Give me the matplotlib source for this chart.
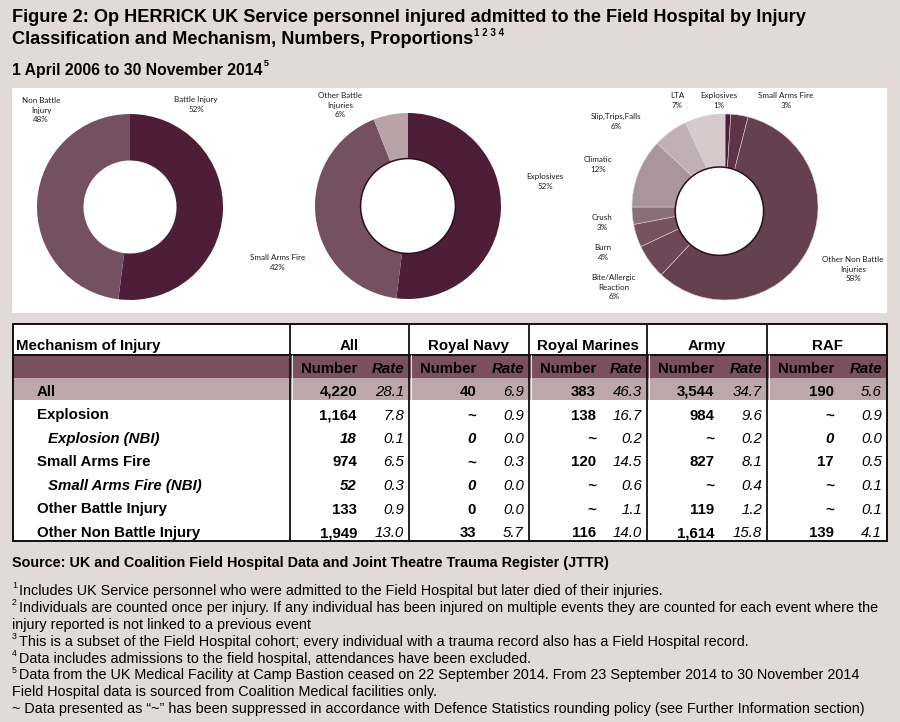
import matplotlib
matplotlib.use('Agg')
import matplotlib.pyplot as plt
from matplotlib.patches import Rectangle, Circle

W, H = 900, 722
BG = '#e2dad9'

# ---- chart data ----
overall_labels = ['Battle Injury', 'Non Battle\nInjury']
overall_pct = [52, 48]

battle_labels = ['Explosives', 'Small Arms Fire', 'Other Battle\nInjuries']
battle_pct = [52, 42, 6]
battle_total = '2,201'

nonbattle_labels = ['Explosives', 'Small Arms Fire', 'Other Non Battle\nInjuries',
                    'Bite/Allergic\nReaction', 'Burn', 'Crush', 'Climatic',
                    'Slip,Trips,Falls', 'LTA']
nonbattle_pct = [1, 3, 58, 6, 4, 3, 12, 6, 7]
nonbattle_total = '2,019'

# ---- table data (None = suppressed "~") ----
groups = ['All', 'Royal Navy', 'Royal Marines', 'Army', 'RAF']
mechanisms = ['All', 'Explosion', 'Explosion (NBI)', 'Small Arms Fire',
              'Small Arms Fire (NBI)', 'Other Battle Injury', 'Other Non Battle Injury']
numbers = [
    [4220, 40, 383, 3544, 190],
    [1164, None, 138, 984, None],
    [18, 0, None, None, 0],
    [974, None, 120, 827, 17],
    [52, 0, None, None, None],
    [133, 0, None, 119, None],
    [1949, 33, 116, 1614, 139],
]
rates = [
    [28.1, 6.9, 46.3, 34.7, 5.6],
    [7.8, 0.9, 16.7, 9.6, 0.9],
    [0.1, 0.0, 0.2, 0.2, 0.0],
    [6.5, 0.3, 14.5, 8.1, 0.5],
    [0.3, 0.0, 0.6, 0.4, 0.1],
    [0.9, 0.0, 1.1, 1.2, 0.1],
    [13.0, 5.7, 14.0, 15.8, 4.1],
]

title_lines = ['Figure 2: Op HERRICK UK Service personnel injured admitted to the Field Hospital by Injury',
               'Classification and Mechanism, Numbers, Proportions']
subtitle = '1 April 2006 to 30 November 2014'
source = 'Source: UK and Coalition Field Hospital Data and Joint Theatre Trauma Register (JTTR)'
footnotes = [
    ('1', 'Includes UK Service personnel who were admitted to the Field Hospital but later died of their injuries.'),
    ('2', 'Individuals are counted once per injury. If any individual has been injured on multiple events they are counted for each event where the'),
    ('', 'injury reported is not linked to a previous event'),
    ('3', 'This is a subset of the Field Hospital cohort; every individual with a trauma record also has a Field Hospital record.'),
    ('4', 'Data includes admissions to the field hospital, attendances have been excluded.'),
    ('5', 'Data from the UK Medical Facility at Camp Bastion ceased on 22 September 2014. From 23 September 2014 to 30 November 2014'),
    ('', 'Field Hospital data is sourced from Coalition Medical facilities only.'),
    ('', '~ Data presented as \u201c~\u201d has been suppressed in accordance with Defence Statistics rounding policy (see Further Information section)'),
]

SANS = ['Liberation Sans', 'DejaVu Sans']
LABEL = ['Lato', 'DejaVu Sans']

fig = plt.figure(figsize=(9, 7.22), dpi=100, facecolor=BG)
ax = fig.add_axes([0, 0, 1, 1])
ax.set_xlim(0, W)
ax.set_ylim(H, 0)
ax.axis('off')
renderer = fig.canvas.get_renderer()


def right_edge(t):
    bb = t.get_window_extent(renderer)
    return ax.transData.inverted().transform((bb.x1, bb.y0))[0]


def fit_size(s, width, size, **kw):
    # no narrow font installed: shrink the size so the line keeps its width
    t = ax.text(0, 0, s, size=size, **kw)
    w = t.get_window_extent(renderer).width
    t.remove()
    return size * width / w


# title block
tsize = fit_size(title_lines[0], 790, 12.8, family=SANS, weight='bold')
t = None
for i, line in enumerate(title_lines):
    t = ax.text(12, 18 + 21 * i, line, family=SANS, weight='bold', size=tsize, va='center')
ax.text(right_edge(t) + 1, 33, '1 2 3 4', family=SANS, weight='bold', size=7, va='center')
t = ax.text(12, 70, subtitle, family=SANS, weight='bold', size=11.3, va='center')
ax.text(right_edge(t) + 1, 64, '5', family=SANS, weight='bold', size=6.5, va='center')

# white chart panel
ax.add_patch(Rectangle((12, 88), 875, 225, facecolor='white', edgecolor='none'))


def donut(cx, cy, vals, colors, width, edge, lw, r=93):
    dax = fig.add_axes([(cx - r) / W, 1 - (cy + r) / H, 2 * r / W, 2 * r / H])
    dax.pie(vals, colors=colors, startangle=90, counterclock=False, radius=1,
            wedgeprops=dict(width=width, edgecolor=edge, linewidth=lw))
    dax.set_xlim(-1, 1)
    dax.set_ylim(-1, 1)
    dax.axis('off')
    return dax


dark, mid, light = '#4e1e38', '#745060', '#b9a3a8'
donut(130, 207, overall_pct, [dark, mid], 0.5, 'none', 0)
d2 = donut(408, 206, battle_pct, [dark, mid, light], 0.55, 'none', 0)
d2.add_patch(Circle((0, 0), 0.51, facecolor='white', edgecolor='#2a0f1c', lw=1.1, zorder=5))
nb_colors = ['#4e1e38', '#5d3346', '#65404e', '#6f4857', '#77525f', '#8b6f78',
             '#a9959c', '#c0b0b5', '#d6cacd']
d3 = donut(725, 207, nonbattle_pct, nb_colors, 0.6, '#d8cdd0', 0.4)
d3.add_patch(Circle((-0.06, -0.045), 0.475, facecolor='white', edgecolor='#2a0f1c', lw=1.1, zorder=5))

# slice labels (positions in pixels)
lab_kw = dict(family=LABEL, size=5.8, ha='center', va='top', linespacing=1.45, color='#1a1a1a')
overall_pos = [(196, 96), (41, 97)]
for lab, p, pos in zip(overall_labels, overall_pct, overall_pos):
    ax.text(pos[0], pos[1], f'{lab}\n{p}%', **lab_kw)
battle_pos = [(545, 173), (278, 254), (340, 92)]
for lab, p, pos in zip(battle_labels, battle_pct, battle_pos):
    ax.text(pos[0], pos[1], f'{lab}\n{p}%', **lab_kw)
nb_pos = [(719, 92), (786, 92), (853, 256), (614, 274), (603, 244), (602, 214),
          (598, 156), (616, 113), (677, 92)]
for lab, p, pos in zip(nonbattle_labels, nonbattle_pct, nb_pos):
    ax.text(pos[0], pos[1], f'{lab}\n{p}%', **lab_kw)

ctr_kw = dict(family=LABEL, size=6.8, weight='bold', ha='center', va='center', color='#1a1a1a')
ax.text(408, 187, 'Battle\nInjuries:', linespacing=1.6, **ctr_kw)
ax.text(408, 221, battle_total, **ctr_kw)
ax.text(720, 188, 'Non Battle\nInjuries:', linespacing=1.6, **ctr_kw)
ax.text(720, 222, nonbattle_total, **ctr_kw)

# ---- table ----
tx0, tx1 = 13, 887
ty0, ty_head, ty_band, ty_all, ty1 = 324, 355, 378, 400, 541
gx = [290, 409, 529, 647, 767, 887]
row_h = (ty1 - ty_all) / (len(mechanisms) - 1)

ax.add_patch(Rectangle((tx0, ty0), tx1 - tx0, ty1 - ty0, facecolor='white', edgecolor='none'))
ax.add_patch(Rectangle((tx0, ty_head), tx1 - tx0, ty_band - ty_head, facecolor='#7a4f5e', edgecolor='none'))
ax.add_patch(Rectangle((tx0, ty_band), tx1 - tx0, ty_all - ty_band, facecolor='#bca7ab', edgecolor='none'))

# header row
ax.text(16, ty_head - 5, 'Mechanism of Injury', family=SANS, weight='bold', size=10.8, va='baseline')
for g, (a, b) in zip(groups, zip(gx[:-1], gx[1:])):
    ax.text((a + b) / 2, ty_head - 5, g, family=SANS, weight='bold', size=10.8, ha='center', va='baseline')
    ax.text(a + 67, ty_band - 5, 'Number', family=SANS, weight='bold', size=10.8, ha='right', va='baseline')
    ax.text(b - 5, ty_band - 5, 'Rate', family=SANS, weight='bold', style='italic', size=10.8,
            ha='right', va='baseline')

# body rows
for i, mech in enumerate(mechanisms):
    if i == 0:
        base = ty_all - 4
    else:
        base = ty_all + row_h * i - 4
    sub = '(NBI)' in mech
    style = 'italic' if sub else 'normal'
    ax.text(48 if sub else 37, base, mech, family=SANS, weight='bold', style=style, size=10.8, va='baseline')
    for j, (a, b) in enumerate(zip(gx[:-1], gx[1:])):
        n = numbers[i][j]
        s = '~' if n is None else f'{n:,}'
        ax.text(a + 67, base, s, family=SANS, weight='bold', style=style, size=10.8, ha='right', va='baseline')
        ax.text(b - 5, base, f'{rates[i][j]:.1f}', family=SANS, style='italic', size=10.8,
                ha='right', va='baseline')

# grid lines
ax.add_patch(Rectangle((tx0, ty0), tx1 - tx0, ty1 - ty0, facecolor='none', edgecolor='#111111', lw=1.4))
ax.plot([tx0, tx1], [ty_head, ty_head], color='#111111', lw=1.4)
for x in gx[:-1]:
    ax.plot([x, x], [ty0, ty1], color='#111111', lw=1.3)
    ax.plot([x + 1.5, x + 1.5], [ty_head, ty_all], color='white', lw=0.6)

# ---- source and footnotes ----
ssize = fit_size(source, 600, 11, family=SANS, weight='bold')
ax.text(12, 563, source, family=SANS, weight='bold', size=ssize, va='center')
fsize = fit_size(footnotes[1][1], 864, 10.5, family=SANS)
for k, (sup, txt) in enumerate(footnotes):
    y = 591 + 16.9 * k
    if sup:
        ax.text(12, y - 5, sup, family=SANS, size=6.3, va='center')
        ax.text(19, y, txt, family=SANS, size=fsize, va='center')
    else:
        ax.text(12, y, txt, family=SANS, size=fsize, va='center')

fig.savefig('out.png', dpi=100, facecolor=BG)
